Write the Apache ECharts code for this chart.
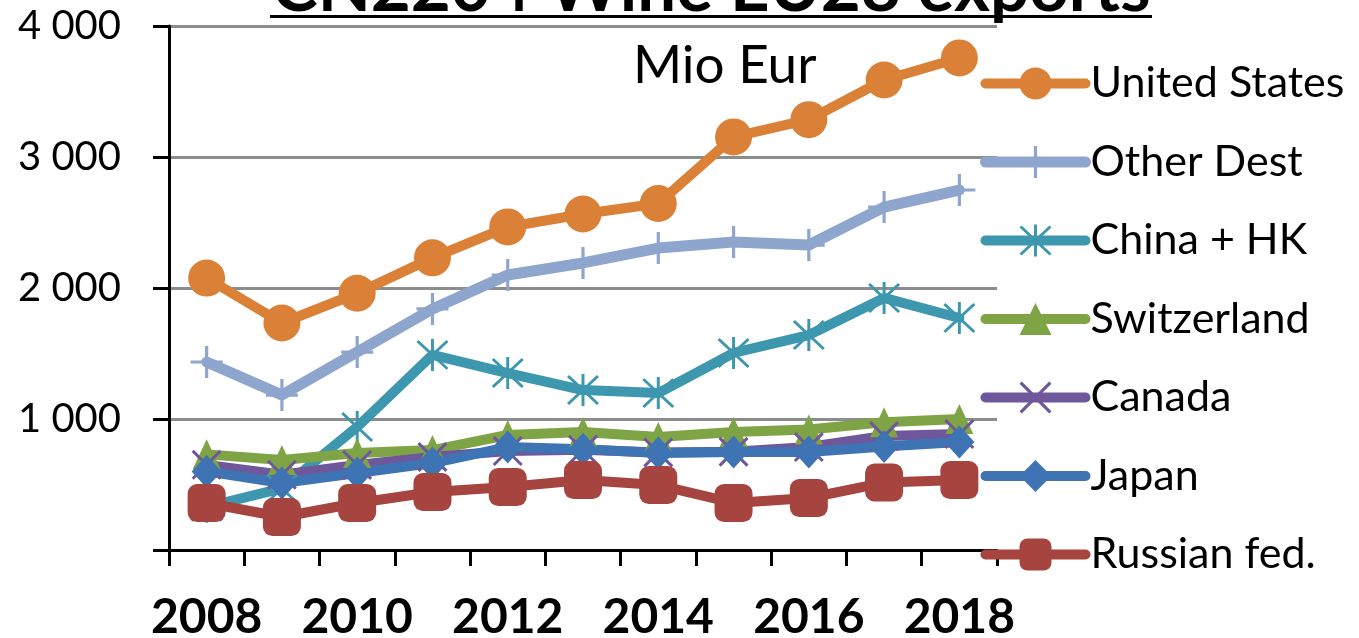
<!DOCTYPE html>
<html>
<head>
<meta charset="utf-8">
<script src="https://cdn.jsdelivr.net/npm/echarts@6/dist/echarts.min.js"></script>
<style>
  html, body { margin: 0; padding: 0; background: #ffffff; }
  #chart { width: 1359px; height: 638px; }
</style>
</head>
<body>
<div id="chart"></div>
<script>
// Years on the category axis
const years = ['2008', '2009', '2010', '2011', '2012', '2013', '2014', '2015', '2016', '2017', '2018'];

// Wine exports by destination, million EUR
const unitedStates = [2076, 1733, 1960, 2230, 2466, 2565, 2645, 3153, 3285, 3588, 3756];
const otherDest    = [1435, 1183, 1511, 1840, 2099, 2191, 2305, 2351, 2328, 2618, 2748];
const chinaHK      = [330, 470, 939, 1489, 1351, 1221, 1198, 1504, 1641, 1924, 1771];
const switzerland  = [730, 687, 740, 763, 878, 901, 863, 901, 920, 975, 1000];
const canada       = [650, 575, 649, 710, 755, 765, 745, 750, 786, 870, 885];
const japan        = [600, 511, 588, 664, 786, 770, 740, 748, 748, 790, 824];
const russia       = [359, 252, 359, 443, 481, 534, 496, 359, 397, 515, 534];

// Value-axis ticks
const yTicks = [0, 1000, 2000, 3000, 4000];

const FONT = 'Lato, "Open Sans", sans-serif';

// Marker shapes drawn as filled paths
const plusPath = 'path://M13.5,0 L16.5,0 L16.5,30 L13.5,30 Z M0,13.5 L30,13.5 L30,16.5 L0,16.5 Z';
const starPath = 'path://M13.7,0 L16.3,0 L16.3,30 L13.7,30 Z M1,2.8 L2.8,1 L29,27.2 L27.2,29 Z M27.2,1 L29,2.8 L2.8,29 L1,27.2 Z';
const crossPath = 'path://M1,3 L3,1 L29,27 L27,29 Z M27,1 L29,3 L3,29 L1,27 Z';

function fmtThousands(v) {
  if (v === 0) return '';
  return String(v).replace(/\B(?=(\d{3})+(?!\d))/g, ' ');
}

function lineSeries(name, data, color, symbol, size, width) {
  return {
    name: name,
    type: 'line',
    data: data,
    symbol: symbol,
    symbolSize: size,
    showAllSymbol: true,
    itemStyle: { color: color },
    lineStyle: { color: color, width: width, cap: 'round', join: 'round' },
    emphasis: { disabled: true }
  };
}

const chart = echarts.init(document.getElementById('chart'), null, { renderer: 'canvas' });

chart.setOption({
  animation: false,
  backgroundColor: '#ffffff',
  grid: { left: 169, right: 362, top: 26, bottom: 88, containLabel: false, outerBoundsMode: 'none' },
  graphic: [
    {
      type: 'text',
      left: 272,
      top: -46,
      style: {
        text: 'CN2204 Wine EU28 exports',
        font: 'bold 69px ' + FONT,
        fill: '#000000'
      },
      z: 10
    },
    {
      type: 'rect',
      shape: { x: 270, y: 15, width: 882, height: 3 },
      style: { fill: '#000000' },
      z: 10
    },
    {
      type: 'text',
      left: 633,
      top: 39,
      style: {
        text: 'Mio Eur',
        font: '53px ' + FONT,
        fill: '#000000'
      },
      z: 10
    }
  ],
  legend: {
    orient: 'vertical',
    left: 975,
    top: 57,
    itemWidth: 100,
    itemHeight: 40,
    itemGap: 35.5,
    lineStyle: { width: 'inherit', cap: 'round' },
    textStyle: { fontFamily: FONT, fontSize: 43, color: '#000000', lineHeight: 40, padding: [0, 0, 0, 0] },
    data: ['United States', 'Other Dest', 'China + HK', 'Switzerland', 'Canada', 'Japan', 'Russian fed.']
  },
  xAxis: {
    type: 'category',
    data: years,
    boundaryGap: true,
    axisLine: { show: true, lineStyle: { color: '#000000', width: 3 } },
    axisTick: { show: true, interval: 0, length: 16, lineStyle: { color: '#000000', width: 3 } },
    axisLabel: {
      interval: 1,
      margin: 44,
      fontFamily: FONT,
      fontWeight: 'bold',
      fontSize: 48,
      color: '#000000'
    },
    splitLine: { show: false }
  },
  yAxis: {
    type: 'value',
    min: yTicks[0],
    max: yTicks[yTicks.length - 1],
    interval: 1000,
    axisLine: { show: true, lineStyle: { color: '#000000', width: 3 } },
    axisTick: { show: true, length: 16, lineStyle: { color: '#000000', width: 3 } },
    axisLabel: {
      margin: 48,
      fontFamily: FONT,
      fontSize: 40,
      color: '#000000',
      formatter: fmtThousands
    },
    splitLine: { show: true, lineStyle: { color: '#8c8c8c', width: 3 } }
  },
  series: [
    lineSeries('United States', unitedStates, '#DA8137', 'circle', 37, 10),
    lineSeries('Other Dest', otherDest, '#8EA6CD', plusPath, 32, 11),
    lineSeries('China + HK', chinaHK, '#3D98AF', starPath, 32, 10),
    lineSeries('Switzerland', switzerland, '#7FA446', 'triangle', [28, 30], 10),
    lineSeries('Canada', canada, '#6F579C', crossPath, 30, 10),
    lineSeries('Japan', japan, '#3F74B4', 'diamond', [30, 33], 10),
    lineSeries('Russian fed.', russia, '#A6443F', 'roundRect', 38, 10)
  ]
});
</script>
</body>
</html>
